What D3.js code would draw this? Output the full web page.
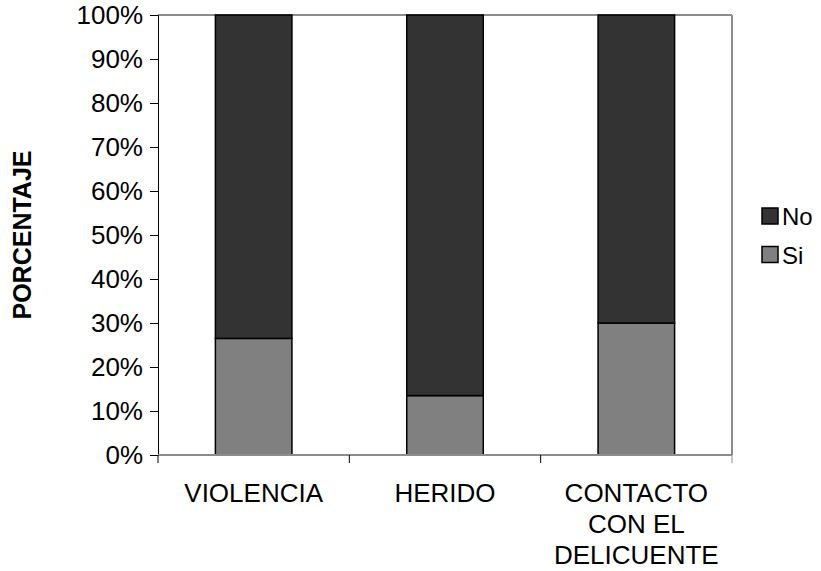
<!DOCTYPE html>
<meta charset="utf-8">
<head>
  <title>Porcentaje</title>
</head>
<style>
  body { margin: 0; background: #fff; }
  .txt { font-family: "Liberation Sans", Arial, sans-serif; font-size: 26px; fill: #000; }
</style>
<body>
<svg id="chart" width="821" height="571"></svg>
<script src="https://cdnjs.cloudflare.com/ajax/libs/d3/7.8.5/d3.min.js"></script>
<script>
var categories = ["VIOLENCIA", "HERIDO", "CONTACTO CON EL DELICUENTE"];
var catLines = [["VIOLENCIA"], ["HERIDO"], ["CONTACTO", "CON EL", "DELICUENTE"]];
var siValues = [26.5, 13.5, 30];
var noValues = [73.5, 86.5, 70];
var yTicks = [0, 10, 20, 30, 40, 50, 60, 70, 80, 90, 100];
var seriesNames = ["No", "Si"];
var seriesColors = ["#333333", "#808080"];

var svg = d3.select("#chart");
var pLeft = 158, pRight = 732, pTop = 15, pBottom = 455;

var x = d3.scaleBand().domain(categories).range([pLeft, pRight]).padding(0);
var y = d3.scaleLinear().domain([0, 100]).range([pBottom, pTop]);
var barW = x.bandwidth() * 0.4;

// plot border (gray top/right)
svg.append("line").attr("x1", pLeft).attr("x2", pRight).attr("y1", pTop).attr("y2", pTop)
  .style("stroke", "#8c8c8c").style("stroke-width", 2);
svg.append("line").attr("x1", pRight).attr("x2", pRight).attr("y1", pTop).attr("y2", pBottom)
  .style("stroke", "#8c8c8c").style("stroke-width", 2);

// stacked data
var stacked = categories.map(function(c, i) {
  return { cat: c, si: siValues[i], no: noValues[i] };
});

var g = svg.append("g");
g.selectAll("rect.si").data(stacked).enter().append("rect")
  .attr("x", function(d) { return x(d.cat) + (x.bandwidth() - barW) / 2; })
  .attr("y", function(d) { return y(d.si); })
  .attr("width", barW)
  .attr("height", function(d) { return y(0) - y(d.si); })
  .style("fill", seriesColors[1]).style("stroke", "#000").style("stroke-width", 1.5);
g.selectAll("rect.no").data(stacked).enter().append("rect")
  .attr("x", function(d) { return x(d.cat) + (x.bandwidth() - barW) / 2; })
  .attr("y", function(d) { return y(d.si + d.no); })
  .attr("width", barW)
  .attr("height", function(d) { return y(d.si) - y(d.si + d.no); })
  .style("fill", seriesColors[0]).style("stroke", "#000").style("stroke-width", 1.5);

// y axis
var yAxis = svg.append("g").attr("transform", "translate(" + pLeft + ",0)")
  .call(d3.axisLeft(y).tickValues(yTicks).tickSize(8).tickPadding(7)
    .tickFormat(function(d) { return d + "%"; }));
yAxis.attr("font-family", null).attr("font-size", null);
yAxis.select(".domain").style("stroke", "#000");
yAxis.selectAll(".tick line").style("stroke", "#000");
yAxis.selectAll("text").attr("class", "txt");

// x axis (gray line, ticks at band boundaries)
svg.append("line").attr("x1", pLeft).attr("x2", pRight).attr("y1", pBottom).attr("y2", pBottom)
  .style("stroke", "#8c8c8c").style("stroke-width", 2);
var bounds = categories.map(function(c) { return x(c); }).concat([pRight]);
svg.selectAll("line.xt").data(bounds).enter().append("line")
  .attr("x1", function(d) { return d; }).attr("x2", function(d) { return d; })
  .attr("y1", pBottom).attr("y2", pBottom + 8)
  .style("stroke", function(d, i) { return i === bounds.length - 1 ? "#8c8c8c" : "#000"; })
  .style("stroke-width", 1);

var xl = svg.selectAll("text.xl").data(categories).enter().append("text")
  .attr("class", "txt").attr("text-anchor", "middle")
  .attr("transform", function(d) { return "translate(" + (x(d) + x.bandwidth() / 2) + ",502)"; });
xl.selectAll("tspan").data(function(d, i) { return catLines[i]; }).enter().append("tspan")
  .attr("x", 0).attr("dy", function(d, i) { return i === 0 ? 0 : 31; })
  .text(function(d) { return d; });

// y label
svg.append("text").attr("class", "txt")
  .attr("transform", "translate(31," + ((pTop + pBottom) / 2) + ") rotate(-90)")
  .attr("text-anchor", "middle").style("font-weight", "bold").style("font-size", "25px")
  .text("PORCENTAJE");

// legend
var leg = svg.selectAll("g.leg").data(seriesNames).enter().append("g")
  .attr("transform", function(d, i) { return "translate(762," + (208 + i * 38.5) + ")"; });
leg.append("rect").attr("width", 16).attr("height", 16)
  .style("fill", function(d, i) { return seriesColors[i]; })
  .style("stroke", "#000").style("stroke-width", 1.5);
leg.append("text").attr("class", "txt").style("font-size", "24px")
  .attr("x", 20).attr("y", 17).text(function(d) { return d; });
</script>
</body>
